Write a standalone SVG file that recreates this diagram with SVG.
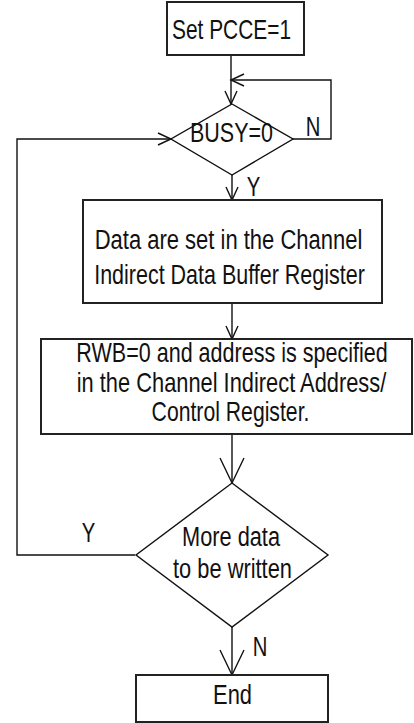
<svg xmlns="http://www.w3.org/2000/svg" width="414" height="723" viewBox="0 0 414 723">
<style>
.box{fill:#fff;stroke:#222;stroke-width:2}
.dia{fill:#fff;stroke:#111;stroke-width:1.4}
.ln{fill:none;stroke:#111;stroke-width:1.4}
text{font-family:"Liberation Sans",Arial,sans-serif;font-size:27px;fill:#111;text-anchor:middle}
</style>
<defs>
<marker id="sm" markerUnits="userSpaceOnUse" markerWidth="30" markerHeight="30" viewBox="-15 -15 30 30" refX="0" refY="0" orient="auto" overflow="visible">
<path d="M-13,-6 L0,0 L-13,6" fill="none" stroke="#111" stroke-width="1.4"/>
</marker>
<marker id="lg" markerUnits="userSpaceOnUse" markerWidth="60" markerHeight="60" viewBox="-30 -30 60 60" refX="0" refY="0" orient="auto" overflow="visible">
<path d="M-25,-12 L0,0 L-25,12" fill="none" stroke="#111" stroke-width="1.4"/>
</marker>
</defs>
<g id="connectors">
<path class="ln" d="M231,55 L231,104" marker-end="url(#sm)"/>
<path class="ln" d="M293,139 L331,139 L331,80 L231,80" marker-end="url(#sm)"/>
<path class="ln" d="M232,175 L232,200" marker-end="url(#sm)"/>
<path class="ln" d="M232,303 L232,339" marker-end="url(#sm)"/>
<path class="ln" d="M232,434 L232,483" marker-end="url(#lg)"/>
<path class="ln" d="M135,555 L17,555 L17,139 L171,139" marker-end="url(#sm)"/>
<path class="ln" d="M232,627 L232,675" marker-end="url(#lg)"/>
<text transform="translate(313,136) scale(0.75,1)">N</text>
<text transform="translate(253.5,196) scale(0.75,1)">Y</text>
<text transform="translate(88.5,542) scale(0.75,1)">Y</text>
<text transform="translate(260,656) scale(0.75,1)">N</text>
</g>
<g id="start">
<rect class="box" x="167" y="2" width="137" height="53"/>
<text transform="translate(231.5,39) scale(0.774,1)">Set PCCE=1</text>
</g>
<g id="busy">
<polygon class="dia" points="232,104 293,139 232,175 171,139"/>
<text transform="translate(231.5,142) scale(0.796,1)">BUSY=0</text>
</g>
<g id="setdata">
<rect class="box" x="83" y="200" width="299" height="103"/>
<text transform="translate(228.5,249) scale(0.815,1)">Data are set in the Channel</text>
<text transform="translate(229.5,284) scale(0.796,1)">Indirect Data Buffer Register</text>
</g>
<g id="rwb">
<rect class="box" x="41" y="339" width="371" height="95"/>
<text transform="translate(232,362) scale(0.798,1)">RWB=0 and address is specified</text>
<text transform="translate(231.5,392) scale(0.809,1)">in the Channel Indirect Address/</text>
<text transform="translate(230.5,421) scale(0.785,1)">Control Register.</text>
</g>
<g id="more">
<polygon class="dia" points="232,483 328,555 232,627 136,555"/>
<text transform="translate(231,546) scale(0.806,1)">More data</text>
<text transform="translate(232.5,578) scale(0.809,1)">to be written</text>
</g>
<g id="end">
<rect class="box" x="136" y="675" width="192" height="47"/>
<text transform="translate(232.5,704) scale(0.81,1)">End</text>
</g>
</svg>
